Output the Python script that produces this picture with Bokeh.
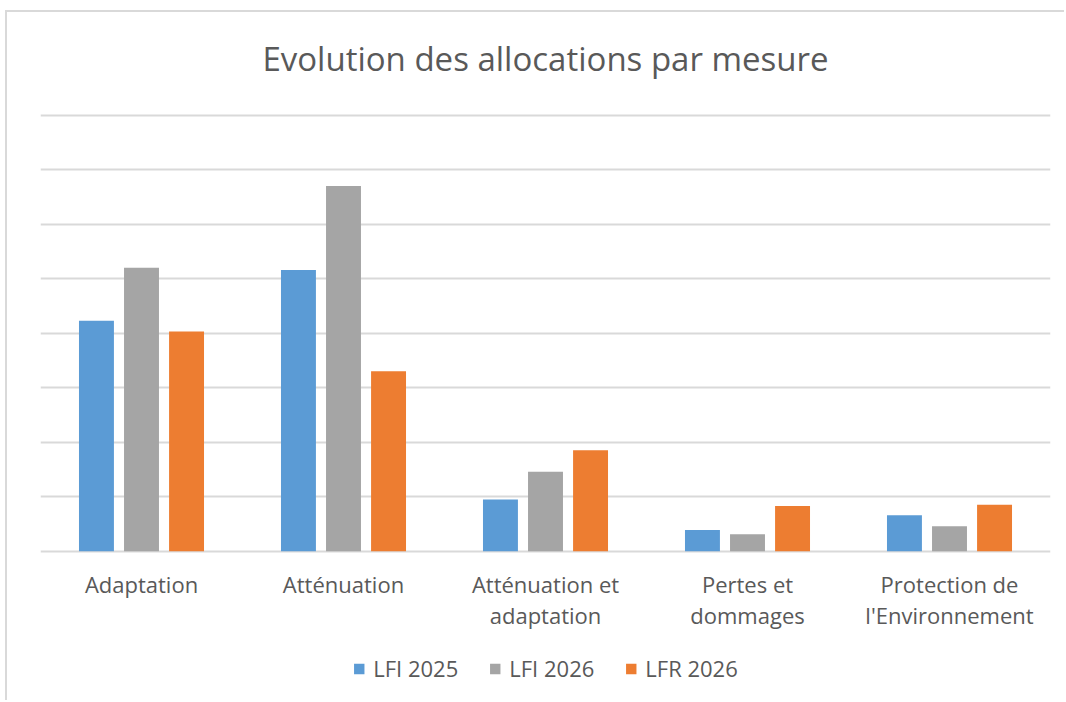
from bokeh.plotting import figure
from bokeh.models import (ColumnDataSource, FactorRange, Range1d, Legend, LegendItem,
                          FixedTicker, Label)
from bokeh.core.properties import value
from bokeh.transform import dodge
from bokeh.embed import file_html
from bokeh.resources import INLINE

categories = ["Adaptation", "Atténuation", "Atténuation et\nadaptation",
              "Pertes et\ndommages", "Protection de\nl'Environnement"]
series_names = ["LFI 2025", "LFI 2026", "LFR 2026"]
lfi_2025 = [4.23, 5.16, 0.95, 0.39, 0.66]
lfi_2026 = [5.20, 6.70, 1.46, 0.31, 0.46]
lfr_2026 = [4.03, 3.30, 1.85, 0.83, 0.85]
grid_ticks = [0, 1, 2, 3, 4, 5, 6, 7, 8]
title_text = "Evolution des allocations par mesure"

colors = ["#5B9BD5", "#A5A5A5", "#ED7D31"]
FONT = "Open Sans"
TXT = "#595959"

source = ColumnDataSource(dict(cat=categories, a=lfi_2025, b=lfi_2026, c=lfr_2026,
                               ly=[-0.33] * len(categories)))

p = figure(x_range=FactorRange(*categories, range_padding=0, factor_padding=0),
           y_range=Range1d(-2.776, 9.884),
           width=1059, height=690, output_backend="svg", toolbar_location=None,
           min_border_left=33, min_border_right=16, min_border_top=0, min_border_bottom=0)

renderers = []
for key, off, col in zip(["a", "b", "c"], [-0.223, 0.0, 0.223], colors):
    r = p.vbar(x=dodge("cat", off, range=p.x_range), top=key, width=0.173,
               source=source, fill_color=col, line_color=None)
    renderers.append(r)

# category labels
p.text(x="cat", y="ly", text="cat", source=source, text_align="center",
       text_baseline="top", text_font=value(FONT), text_font_size="22px",
       text_color=TXT, text_line_height=1.03)

# title
p.add_layout(Label(x=2.5, y=9.04, text=title_text, text_align="center",
                   text_baseline="middle", text_font=FONT, text_font_size="33px",
                   text_color=TXT))

p.xaxis.visible = False
p.yaxis.visible = False
p.xgrid.visible = False
p.ygrid.ticker = FixedTicker(ticks=grid_ticks)
p.ygrid.grid_line_color = "#d9d9d9"
p.ygrid.grid_line_width = 2
p.outline_line_color = None

legend = Legend(items=[LegendItem(label=n, renderers=[r]) for n, r in zip(series_names, renderers)],
                orientation="horizontal", location="bottom_center",
                border_line_color=None, background_fill_alpha=0,
                label_text_font=FONT, label_text_font_size="22px", label_text_color=TXT,
                glyph_width=13, glyph_height=13, label_standoff=8, spacing=30,
                margin=19, padding=0)
p.add_layout(legend)

p.styles = {"margin-left": "5px", "margin-top": "10px",
            "border-left": "2px solid #d9d9d9", "border-top": "2px solid #d9d9d9"}

open("out.html", "w").write(file_html(p, INLINE))
